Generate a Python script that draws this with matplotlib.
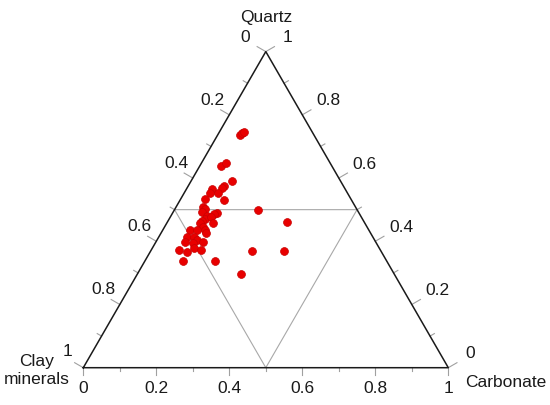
import numpy as np
import matplotlib
matplotlib.use("Agg")
import matplotlib.pyplot as plt

plt.rcParams['font.family'] = ['Liberation Sans', 'DejaVu Sans']

# sample compositions (fractions)
quartz = [0.736, 0.742, 0.745, 0.638, 0.649, 0.592, 0.575, 0.570, 0.564, 0.552,
          0.552, 0.530, 0.533, 0.509, 0.501, 0.493, 0.500, 0.490, 0.486, 0.480,
          0.472, 0.476, 0.465, 0.457, 0.459, 0.460, 0.446, 0.435, 0.435, 0.435,
          0.425, 0.414, 0.414, 0.404, 0.398, 0.398, 0.393, 0.372, 0.367, 0.378,
          0.372, 0.369, 0.370, 0.337, 0.338, 0.298]
carbonate = [0.062, 0.065, 0.069, 0.059, 0.066, 0.111, 0.097, 0.094, 0.070, 0.070,
             0.093, 0.121, 0.068, 0.074, 0.082, 0.078, 0.228, 0.121, 0.115, 0.098,
             0.098, 0.111, 0.093, 0.092, 0.126, 0.328, 0.106, 0.075, 0.093, 0.116,
             0.123, 0.077, 0.095, 0.109, 0.130, 0.080, 0.105, 0.075, 0.101, 0.113,
             0.136, 0.279, 0.366, 0.105, 0.192, 0.283]
tick_vals = [0, 0.2, 0.4, 0.6, 0.8, 1]
tick_text = ['0', '0.2', '0.4', '0.6', '0.8', '1']

q = np.array(quartz)
c = np.array(carbonate)
clay = 1 - q - c

H = np.sqrt(3) / 2
PX = 1 / 365.0  # one pixel in data units

def tern(cb, qz):
    return cb + qz / 2, qz * H

fig = plt.figure(figsize=(5.5, 4.05), dpi=100)
ax = fig.add_axes([0, 0, 1, 1])
ax.set_xlim(-83.3 * PX, (550 - 83.3) * PX)
ax.set_ylim(-(405 - 367.7) * PX, 367.7 * PX)
ax.axis('off')

# inner triangle
ax.plot([0.25, 0.75, 0.5, 0.25], [H / 2, H / 2, 0, H / 2], color='#a8a8a8', lw=0.8, zorder=1)

# ticks
tc = '#a0a0a0'
for k in range(11):
    v = k / 10
    ln = 10 * PX if k % 2 == 0 else 5 * PX
    # bottom (carbonate)
    ax.plot([v, v], [0, -ln * 0.7], color=tc, lw=0.8, zorder=1)
    # left (clay), 0 at top
    x0, y0 = 0.5 - v / 2, H - v * H
    ax.plot([x0, x0 - ln * 0.866], [y0, y0 + ln * 0.5], color=tc, lw=0.8, zorder=1)
    # right (quartz), 1 at top
    x1, y1 = 1 - v / 2, v * H
    ax.plot([x1, x1 + ln * 0.866], [y1, y1 + ln * 0.5], color=tc, lw=0.8, zorder=1)

# outer triangle
ax.plot([0, 1, 0.5, 0], [0, 0, H, 0], color='#1a1a1a', lw=1.1, zorder=2)

fs = 12.5
tcol = '#1a1a1a'
for v, s in zip(tick_vals, tick_text):
    ax.text(v, -21 * PX, s, ha='center', va='center', fontsize=fs, color=tcol)
    # left
    x0, y0 = 0.5 - v / 2, H - v * H
    dx, dy = -4.5, 14.5
    if v == 0:
        dx = -15.5
    elif v == 1:
        dx, dy = -11, 16
    ax.text(x0 + dx * PX, y0 + dy * PX, s, ha='right', va='center', fontsize=fs, color=tcol)
    # right
    x1, y1 = 1 - v / 2, v * H
    dx = 14
    if v in (0, 1):
        dx = 17
    ax.text(x1 + dx * PX, y1 + 14 * PX, s, ha='left', va='center', fontsize=fs, color=tcol)

ax.text(0.5, H + 34.5 * PX, 'Quartz', ha='center', va='center', fontsize=fs, color=tcol)
ax.text(-47 * PX, 6 * PX, 'Clay', ha='center', va='center', fontsize=fs, color=tcol)
ax.text(-47 * PX, -12 * PX, 'minerals', ha='center', va='center', fontsize=fs, color=tcol)
ax.text(1 + 17 * PX, -15 * PX, 'Carbonate', ha='left', va='center', fontsize=fs, color=tcol)

xs, ys = tern(c, q)
ax.scatter(xs, ys, s=32, color='#e80000', edgecolors='#c80000', linewidths=0.5, zorder=3)

fig.savefig('out.png', dpi=100)
